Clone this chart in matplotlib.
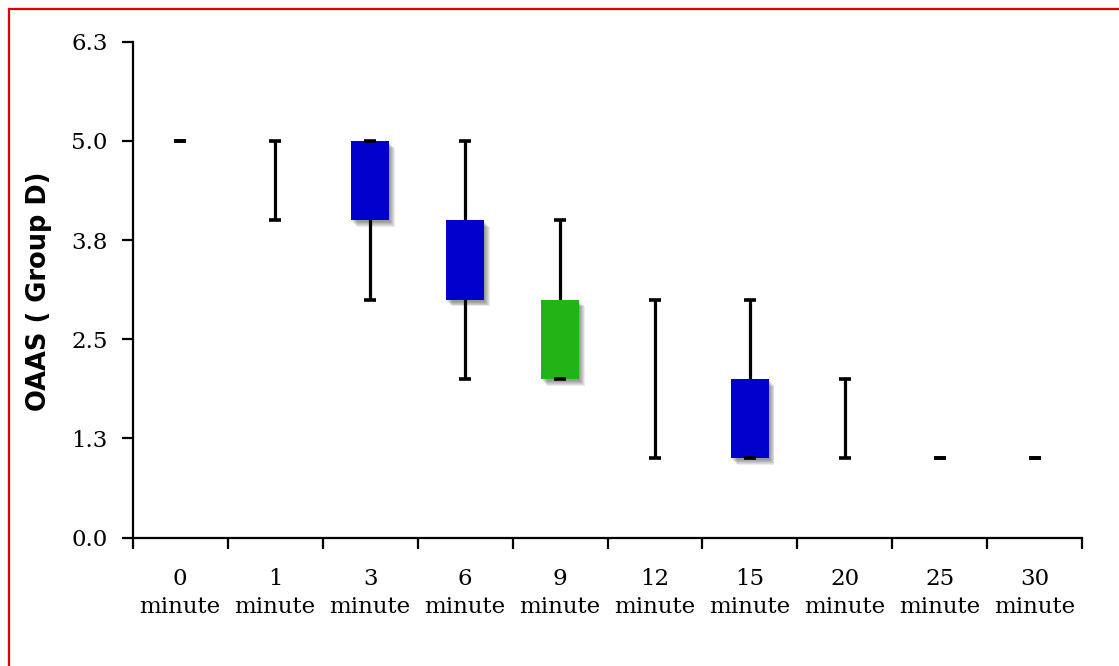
import matplotlib
matplotlib.use("Agg")
import matplotlib.pyplot as plt
import matplotlib.patheffects as pe
from matplotlib.patches import Rectangle
import numpy as np

# OAAS scores over time, Group D
minutes = ["0", "1", "3", "6", "9", "12", "15", "20", "25", "30"]
whisker_low = [5, 4, 3, 2, 2, 1, 1, 1, 1, 1]
whisker_high = [5, 5, 5, 5, 4, 3, 3, 2, 1, 1]
box_low = [np.nan, np.nan, 4, 3, 2, np.nan, 1, np.nan, np.nan, np.nan]
box_high = [np.nan, np.nan, 5, 4, 3, np.nan, 2, np.nan, np.nan, np.nan]
box_colors = ["#0000cc", "#0000cc", "#0000cc", "#0000cc", "#20b418",
              "#0000cc", "#0000cc", "#0000cc", "#0000cc", "#0000cc"]
y_ticks = [0.0, 1.25, 2.5, 3.75, 5.0, 6.25]
y_tick_labels = ["0.0", "1.3", "2.5", "3.8", "5.0", "6.3"]

W, H = 1119, 666
fig = plt.figure(figsize=(W / 100, H / 100), dpi=100, facecolor="white")
ax = fig.add_axes([132.7 / W, (H - 537.5) / H, (1082.3 - 132.7) / W, (537.5 - 41.7) / H])

x = np.arange(len(minutes)) + 0.5
lo = np.array(whisker_low, dtype=float)
hi = np.array(whisker_high, dtype=float)
blo = np.array(box_low, dtype=float)
bhi = np.array(box_high, dtype=float)

# whisker stems (boxes cover the inner part)
ax.vlines(x, lo, hi, color="black", lw=2.3, zorder=1)

# soft drop shadow under the boxes
shadow = [pe.SimplePatchShadow(offset=(1.0 + 0.6 * k, -1.5 - 0.7 * k),
                               shadow_rgbFace="black", alpha=0.08) for k in range(6)]
has_box = ~np.isnan(blo)
ax.bar(x[has_box], (bhi - blo)[has_box], bottom=blo[has_box], width=0.4,
       color=[c for c, b in zip(box_colors, has_box) if b], edgecolor="none",
       zorder=2, path_effects=shadow + [pe.Normal()])

# caps
cap = 0.065
ax.hlines(lo, x - cap, x + cap, color="black", lw=2.6, zorder=3)
ax.hlines(hi, x - cap, x + cap, color="black", lw=2.6, zorder=3)

ax.set_xlim(0, len(minutes))
ax.set_ylim(0, 6.25)
ax.set_yticks(y_ticks)
ax.set_yticklabels(y_tick_labels)
ax.set_xticks(np.arange(len(minutes) + 1))
ax.set_xticklabels([])
ax.set_xticks(x, minor=True)
ax.set_xticklabels([f"{m}\nminute" for m in minutes], minor=True)

ax.tick_params(axis="x", which="major", direction="out", length=8, width=1.6)
ax.tick_params(axis="x", which="minor", length=0, pad=22)
ax.tick_params(axis="y", direction="out", length=8, width=1.6, pad=10)
for lab in ax.get_xticklabels(minor=True) + ax.get_yticklabels():
    lab.set_fontfamily("DejaVu Serif")
    lab.set_fontsize(16.5)
for lab in ax.get_xticklabels(minor=True):
    lab.set_linespacing(1.35)

for s in ["top", "right"]:
    ax.spines[s].set_visible(False)
for s in ["left", "bottom"]:
    ax.spines[s].set_linewidth(1.6)

fig.text(39 / W, 1 - 291 / H, "OAAS ( Group D)", rotation=90, ha="center", va="center",
         fontsize=18.5, fontweight="bold", family="DejaVu Sans")

# red frame
fig.patches.append(Rectangle((9 / W, -0.1), 1.2, 1.1 - 9 / H, transform=fig.transFigure,
                             fill=False, edgecolor="#e00000", lw=1.6, zorder=10))

fig.savefig("out.png", dpi=100, facecolor="white")
